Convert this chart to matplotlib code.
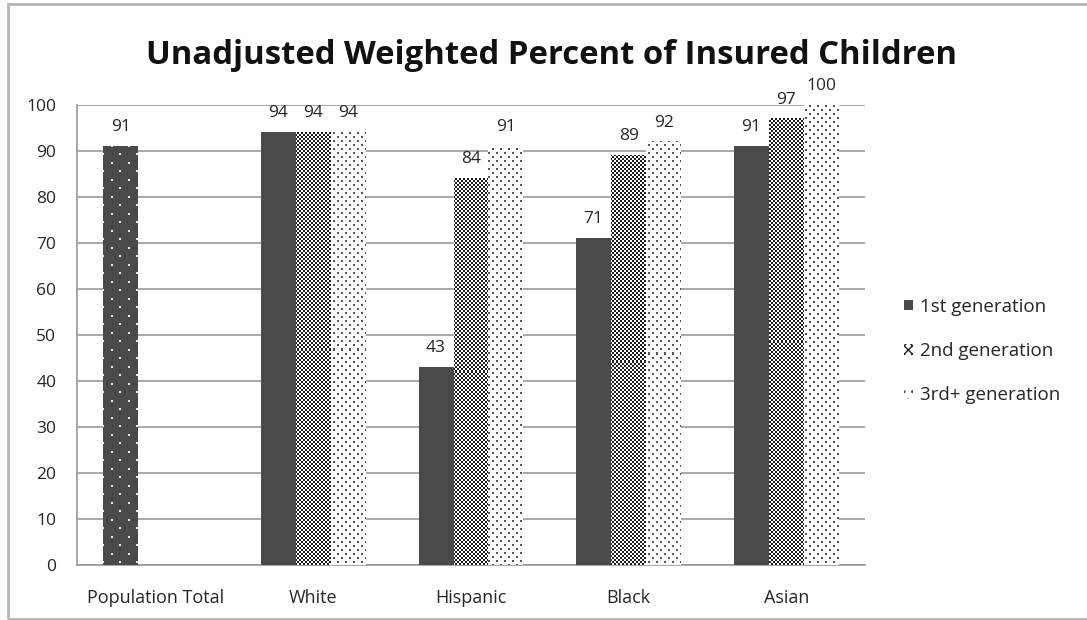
import matplotlib
matplotlib.use('Agg')
import matplotlib.pyplot as plt
from matplotlib.patches import Rectangle
import numpy as np

plt.rcParams['font.family'] = ['Open Sans', 'DejaVu Sans']

categories = ['Population Total', 'White', 'Hispanic', 'Black', 'Asian']
series_names = ['1st generation', '2nd generation', '3rd+ generation']
gen1 = [91, 94, 43, 71, 91]          # the first value is the population total
gen2 = [np.nan, 94, 84, 89, 97]
gen3 = [np.nan, 94, 91, 92, 100]
y_ticks = [0, 10, 20, 30, 40, 50, 60, 70, 80, 90, 100]

W, H = 1087, 620
BAR_W = 0.222
DARK = '#4a4a4a'
TEXT = '#262626'


def texture(kind, X, Y):
    # X, Y: global pixel coordinates, so the patterns line up like in Excel
    img = np.ones(X.shape + (3,))
    if kind == 'solid':
        img[:] = matplotlib.colors.to_rgb(DARK)
    elif kind == 'checker':
        mask = ((X // 2 + Y // 2) % 2) == 0
        img[mask] = matplotlib.colors.to_rgb('#1e1e1e')
    elif kind == 'dots':
        mask = ((X % 8 < 2) & (Y % 8 < 2)) | (((X + 4) % 8 < 2) & ((Y + 4) % 8 < 2))
        img[mask] = matplotlib.colors.to_rgb('#555555')
    elif kind == 'popdots':
        img[:] = matplotlib.colors.to_rgb(DARK)
        mask = ((X % 17 < 2) & (Y % 17 < 2)) | (((X + 8) % 17 < 2) & ((Y + 8) % 17 < 2))
        img[mask] = matplotlib.colors.to_rgb('#e8e8e8')
    return img


def fill_bar(ax, bar, kind):
    x0, x1 = bar.get_x(), bar.get_x() + bar.get_width()
    y0, y1 = bar.get_y(), bar.get_y() + bar.get_height()
    (dx0, dy0), (dx1, dy1) = ax.transData.transform([(x0, y0), (x1, y1)])
    w = max(int(round(dx1 - dx0)), 1)
    h = max(int(round(dy1 - dy0)), 1)
    px = int(np.floor(dx0)) + np.arange(w)
    py = int(np.floor(H - dy1)) + np.arange(h)
    X, Y = np.meshgrid(px, py)
    ax.imshow(texture(kind, X, Y), extent=(x0, x1, y0, y1), origin='upper',
              interpolation='nearest', aspect='auto', zorder=3)


fig = plt.figure(figsize=(W / 100, H / 100), dpi=100)
ax = fig.add_axes([77 / W, 1 - 565 / H, (865 - 77) / W, (565 - 105) / H])
ax.set_xlim(-0.5, len(categories) - 0.5)
ax.set_ylim(0, 100)

x = np.arange(len(categories))
b1 = ax.bar(x - BAR_W, gen1, BAR_W, color='none', zorder=2)
b2 = ax.bar(x, gen2, BAR_W, color='none', zorder=2)
b3 = ax.bar(x + BAR_W, gen3, BAR_W, color='none', zorder=2)

for i, bar in enumerate(b1):
    fill_bar(ax, bar, 'popdots' if i == 0 else 'solid')
for bar in b2:
    if not np.isnan(bar.get_height()):
        fill_bar(ax, bar, 'checker')
for bar in b3:
    if not np.isnan(bar.get_height()):
        fill_bar(ax, bar, 'dots')

for bars, vals in [(b1, gen1), (b2, gen2), (b3, gen3)]:
    labels = ['' if np.isnan(v) else '%d' % v for v in vals]
    ax.bar_label(bars, labels=labels, padding=8, fontsize=12.5, color=TEXT)

ax.set_xlim(-0.5, len(categories) - 0.5)
ax.set_ylim(0, 100)
ax.set_yticks(y_ticks)
ax.set_xticks(x)
ax.set_xticklabels(categories, fontsize=13, color=TEXT)
ax.tick_params(axis='y', length=0, pad=15, labelsize=12.5, labelcolor=TEXT)
ax.tick_params(axis='x', length=0, pad=17)
ax.grid(axis='y', color='#999999', linewidth=1.2, zorder=0)
ax.set_axisbelow(True)
for side in ['right', 'top']:
    ax.spines[side].set_visible(False)
for side in ['left', 'bottom']:
    ax.spines[side].set_color('#999999')
    ax.spines[side].set_linewidth(1.2)

fig.text(552 / W, 1 - 55 / H, 'Unadjusted Weighted Percent of Insured Children',
         ha='center', va='center', fontsize=23.7, fontweight='bold', color='#111111')

handles = [
    Rectangle((0, 0), 1, 1, facecolor=DARK, edgecolor='none'),
    Rectangle((0, 0), 1, 1, facecolor='white', edgecolor='#222222', hatch='xxxx', linewidth=0),
    Rectangle((0, 0), 1, 1, facecolor='white', edgecolor='#555555', hatch='..', linewidth=0),
]
fig.legend(handles, series_names, loc='center left',
           bbox_to_anchor=(887 / W, 1 - 351 / H), frameon=False,
           fontsize=13.5, labelcolor=TEXT, handlelength=0.5, handleheight=0.5,
           handletextpad=0.35, labelspacing=1.4)

# light grey frame around the chart
fig.patches.append(Rectangle((8 / W, 1 / H), 1.2, 615 / H, transform=fig.transFigure,
                             fill=False, edgecolor='#b5b5b5', linewidth=2))

fig.savefig('out.png', dpi=100)
